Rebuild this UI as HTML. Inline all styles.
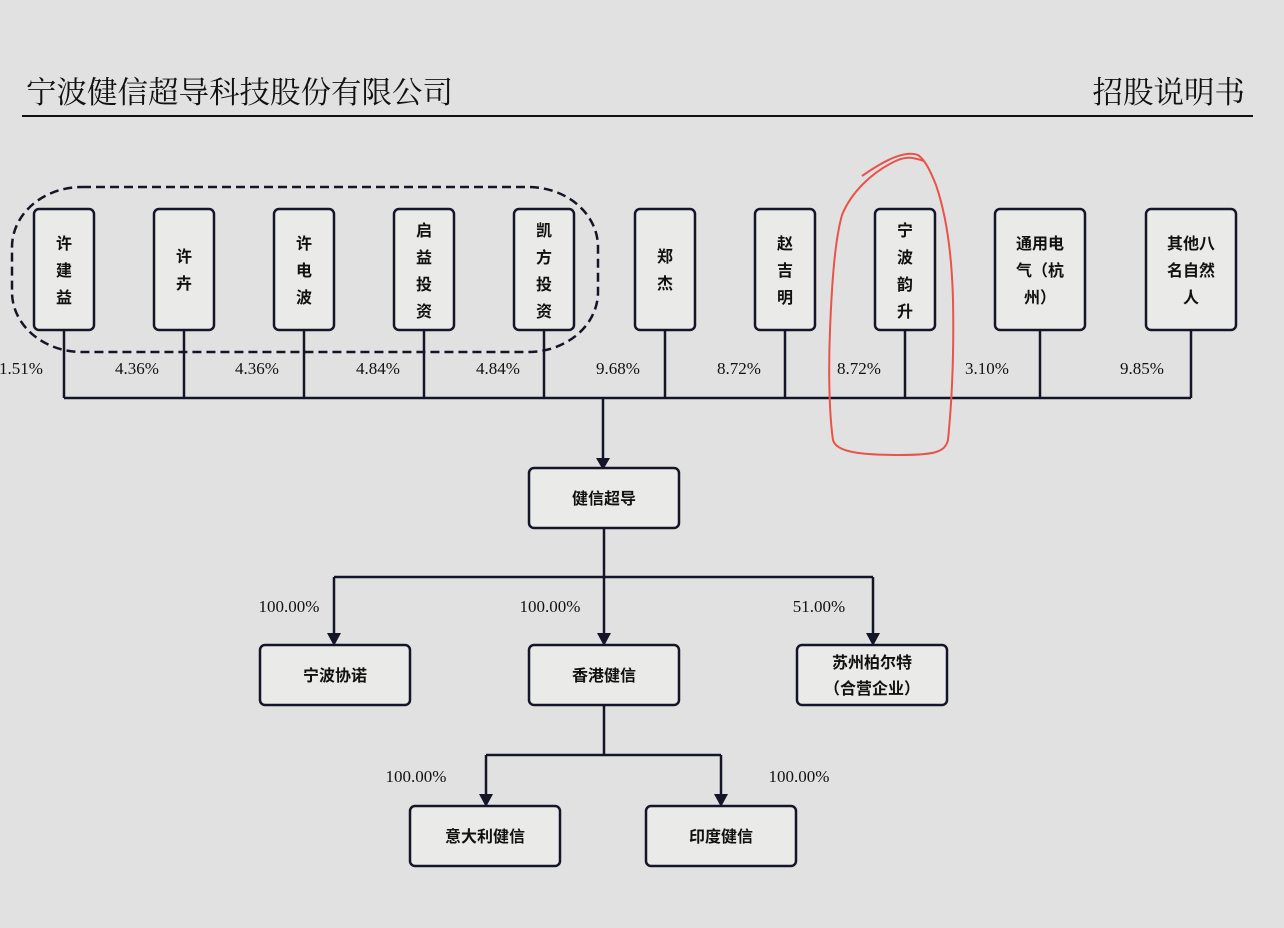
<!DOCTYPE html>
<html><head><meta charset="utf-8"><style>
html,body{margin:0;padding:0;background:#e1e1e1;}
svg{display:block;}
text{font-family:"Liberation Serif","Noto Serif CJK SC",serif;fill:#111;}
.cj{font-family:"Liberation Sans","Noto Sans CJK SC",sans-serif;font-weight:bold;font-size:16px;fill:#111;}
.pc{font-size:17px;}
.b{fill:#eaeae8;stroke:#15152a;stroke-width:2.5;}
.l{stroke:#15152a;stroke-width:2.5;fill:none;}
</style></head><body>
<svg width="1284" height="928" viewBox="0 0 1284 928" xmlns="http://www.w3.org/2000/svg">
<rect width="1284" height="928" fill="#e1e1e1"/>
<text x="26" y="103" style="font-family:'Liberation Serif','Noto Serif CJK SC',serif;font-size:30.5px;">宁波健信超导科技股份有限公司</text>
<text x="1245" y="103" text-anchor="end" style="font-family:'Liberation Serif','Noto Serif CJK SC',serif;font-size:30.5px;">招股说明书</text>
<line x1="22" y1="116" x2="1253" y2="116" stroke="#111" stroke-width="2"/>

<rect x="12" y="187" width="586" height="165" rx="70" ry="60" fill="none" stroke="#15152a" stroke-width="2.5" stroke-dasharray="9,5"/>

<g class="l">
<path d="M64 330V398M184 330V398M304 330V398M424 330V398M544 330V398M665 330V398M785 330V398M905 330V398M1040 330V398M1191 330V398M64 398H1191"/>
<path d="M603 398V460"/>
<path d="M604 528V577M334 577H873M334 577V637M604 577V637M873 577V637"/>
<path d="M604 705V755M486 755H721M486 755V798M721 755V798"/>
</g>
<g fill="#15152a">
<path d="M596 458L610 458L603 470Z"/>
<path d="M327 633L341 633L334 646Z"/>
<path d="M597 633L611 633L604 646Z"/>
<path d="M866 633L880 633L873 646Z"/>
<path d="M479 794L493 794L486 807Z"/>
<path d="M714 794L728 794L721 807Z"/>
</g>

<g>
<rect class="b" x="34" y="209" width="60" height="121" rx="5"/>
<rect class="b" x="154" y="209" width="60" height="121" rx="5"/>
<rect class="b" x="274" y="209" width="60" height="121" rx="5"/>
<rect class="b" x="394" y="209" width="60" height="121" rx="5"/>
<rect class="b" x="514" y="209" width="60" height="121" rx="5"/>
<rect class="b" x="635" y="209" width="60" height="121" rx="5"/>
<rect class="b" x="755" y="209" width="60" height="121" rx="5"/>
<rect class="b" x="875" y="209" width="60" height="121" rx="5"/>
<rect class="b" x="995" y="209" width="90" height="121" rx="5"/>
<rect class="b" x="1146" y="209" width="90" height="121" rx="5"/>
</g>
<g text-anchor="middle">
<text class="cj" x="64" y="249">许</text><text class="cj" x="64" y="276">建</text><text class="cj" x="64" y="303">益</text>
<text class="cj" x="184" y="262">许</text><text class="cj" x="184" y="289">卉</text>
<text class="cj" x="304" y="249">许</text><text class="cj" x="304" y="276">电</text><text class="cj" x="304" y="303">波</text>
<text class="cj" x="424" y="236">启</text><text class="cj" x="424" y="263">益</text><text class="cj" x="424" y="290">投</text><text class="cj" x="424" y="317">资</text>
<text class="cj" x="544" y="236">凯</text><text class="cj" x="544" y="263">方</text><text class="cj" x="544" y="290">投</text><text class="cj" x="544" y="317">资</text>
<text class="cj" x="665" y="262">郑</text><text class="cj" x="665" y="289">杰</text>
<text class="cj" x="785" y="249">赵</text><text class="cj" x="785" y="276">吉</text><text class="cj" x="785" y="303">明</text>
<text class="cj" x="905" y="236">宁</text><text class="cj" x="905" y="263">波</text><text class="cj" x="905" y="290">韵</text><text class="cj" x="905" y="317">升</text>
<text class="cj" x="1040" y="249">通用电</text><text class="cj" x="1040" y="276">气（杭</text><text class="cj" x="1040" y="303">州）</text>
<text class="cj" x="1191" y="249">其他八</text><text class="cj" x="1191" y="276">名自然</text><text class="cj" x="1191" y="303">人</text>
</g>
<g text-anchor="middle">
<text class="pc" x="21" y="374">1.51%</text>
<text class="pc" x="137" y="374">4.36%</text>
<text class="pc" x="257" y="374">4.36%</text>
<text class="pc" x="378" y="374">4.84%</text>
<text class="pc" x="498" y="374">4.84%</text>
<text class="pc" x="618" y="374">9.68%</text>
<text class="pc" x="739" y="374">8.72%</text>
<text class="pc" x="859" y="374">8.72%</text>
<text class="pc" x="987" y="374">3.10%</text>
<text class="pc" x="1142" y="374">9.85%</text>
</g>

<rect class="b" x="529" y="468" width="150" height="60" rx="5"/>
<rect class="b" x="260" y="645" width="150" height="60" rx="5"/>
<rect class="b" x="529" y="645" width="150" height="60" rx="5"/>
<rect class="b" x="797" y="645" width="150" height="60" rx="5"/>
<rect class="b" x="410" y="806" width="150" height="60" rx="5"/>
<rect class="b" x="646" y="806" width="150" height="60" rx="5"/>
<g text-anchor="middle">
<text class="cj" x="604" y="504" text-anchor="middle">健信超导</text>
<text class="cj" x="335" y="681" text-anchor="middle">宁波协诺</text>
<text class="cj" x="604" y="681" text-anchor="middle">香港健信</text>
<text class="cj" x="872" y="668" text-anchor="middle">苏州柏尔特</text>
<text class="cj" x="872" y="694" text-anchor="middle">（合营企业）</text>
<text class="cj" x="485" y="842" text-anchor="middle">意大利健信</text>
<text class="cj" x="721" y="842" text-anchor="middle">印度健信</text>
<text class="pc" x="289" y="612" text-anchor="middle">100.00%</text>
<text class="pc" x="550" y="612" text-anchor="middle">100.00%</text>
<text class="pc" x="819" y="612" text-anchor="middle">51.00%</text>
<text class="pc" x="416" y="782" text-anchor="middle">100.00%</text>
<text class="pc" x="799" y="782" text-anchor="middle">100.00%</text>
</g>

<path d="M862 176C885 160 905 150 918 155C925 160 930 170 936 185C948 220 952 260 953 300C954 350 952 400 948 440C945 452 935 455 900 455C860 455 836 452 833 440C830 420 828 380 830 330C832 280 835 240 842 215C850 195 870 172 898 160C908 156 915 158 924 161" fill="none" stroke="#e8534a" stroke-width="2"/>
</svg>
</body></html>
